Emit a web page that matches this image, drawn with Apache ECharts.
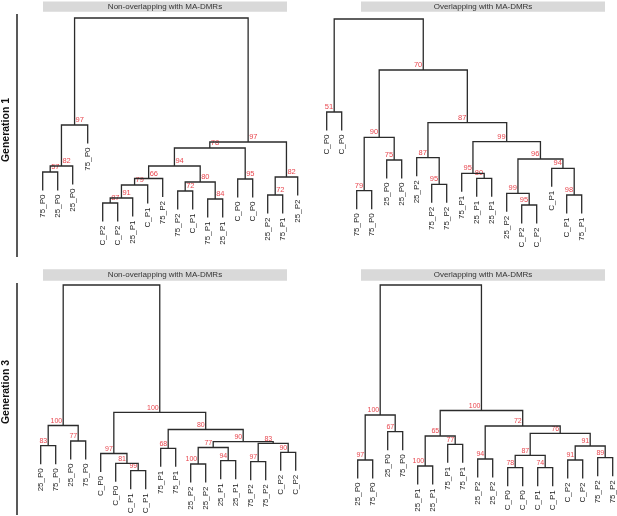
<!DOCTYPE html>
<html><head><meta charset="utf-8">
<script src="https://cdn.jsdelivr.net/npm/echarts@6/dist/echarts.min.js"></script>
<style>html,body{margin:0;padding:0;background:#fff}#c{width:617px;height:516px}</style>
</head><body><div id="c"></div>
<script>
// ---------- DATA ----------
// merges follow R hclust convention: -k = leaf k (1-based), +j = earlier merge j (1-based)
const panelTitles = ['Non-overlapping with MA-DMRs', 'Overlapping with MA-DMRs', 'Non-overlapping with MA-DMRs', 'Overlapping with MA-DMRs'];
const rowTitles = ['Generation 1', 'Generation 3'];

// Generation 1, non-overlapping
const leaves1 = ['75_P0','25_P0','25_P0','75_P0','C_P2','C_P2','25_P1','C_P1','75_P2','75_P2','C_P1','75_P1','25_P1','C_P0','C_P0','25_P2','75_P1','25_P2'];
const merge1 = [[-1,-2],[1,-3],[2,-4],[-5,-6],[4,-7],[5,-8],[6,-9],[-10,-11],[-12,-13],[8,9],[7,10],[-14,-15],[11,12],[-16,-17],[14,-18],[13,15],[3,16]];
const height1 = [68,74,115,37,42,55,61.5,49,41,58,74,61,92,45,63,98,222];
const support1 = [57,82,97,87,91,79,66,72,84,80,94,95,78,72,82,97,null];

// Generation 1, overlapping
const leaves2 = ['C_P0','C_P0','75_P0','75_P0','25_P0','25_P0','25_P2','75_P2','75_P2','75_P1','25_P1','25_P1','25_P2','C_P2','C_P2','C_P1','C_P1','75_P1'];
const merge2 = [[-1,-2],[-3,-4],[-5,-6],[2,3],[-8,-9],[-7,5],[-11,-12],[-10,7],[-14,-15],[-13,9],[-17,-18],[-16,11],[10,12],[8,13],[6,14],[4,15],[1,16]];
const height2 = [128,49.3,80,102.7,55.7,82.3,61.7,66.7,35,46.7,45,71.7,81,98.3,117.3,170,221];
const support2 = [51,79,75,90,95,87,80,95,95,99,98,94,96,99,87,70,null];

// Generation 3, non-overlapping
const leaves3 = ['25_P0','75_P0','25_P0','75_P0','C_P0','C_P0','C_P1','C_P1','75_P1','75_P1','25_P2','25_P2','25_P1','25_P1','75_P2','75_P2','C_P2','C_P2'];
const merge3 = [[-1,-2],[-3,-4],[1,2],[-7,-8],[-6,4],[-5,5],[-9,-10],[-11,-12],[-13,-14],[8,9],[-15,-16],[-17,-18],[11,12],[10,13],[7,14],[6,15],[3,16]];
const height3 = [60.3,65,80.5,35.3,42.7,52.5,57.7,42,45.3,58.5,44.3,53.7,62.7,64.3,76.5,93.7,221];
const support3 = [83,77,100,99,81,97,68,100,94,77,97,90,83,90,80,100,null];

// Generation 3, overlapping
const leaves4 = ['25_P0','75_P0','25_P0','75_P0','25_P1','25_P1','75_P1','75_P1','25_P2','25_P2','C_P0','C_P0','C_P1','C_P1','C_P2','C_P2','75_P2','75_P2'];
const merge4 = [[-1,-2],[-3,-4],[1,2],[-5,-6],[-7,-8],[4,5],[-9,-10],[-11,-12],[-13,-14],[8,9],[-15,-16],[-17,-18],[11,12],[10,13],[7,14],[6,15],[3,16]];
const height4 = [46,74.3,91,40,61.7,70,47,38.3,38.3,50.7,46,48.3,60,72.7,80,95.5,221];
const support4 = [97,67,100,100,77,65,94,78,74,87,91,89,91,76,72,100,null];

// ---------- LAYOUT / STYLE ----------
const HANG = 18.5;          // leaf hang below parent (height units)
const LINE = '#2b2b2b';
const RED = '#e8474f';
const FONT = '"Liberation Sans", Arial, Helvetica, sans-serif';
const panels = [
  {leaves: leaves1, merge: merge1, height: height1, support: support1, left: 42.7, top: 0, align: 'left', fs: 7.5},
  {leaves: leaves2, merge: merge2, height: height2, support: support2, left: 326.7, top: 0, align: 'right', fs: 7.5},
  {leaves: leaves3, merge: merge3, height: height3, support: support3, left: 40.7, top: 266, align: 'right', fs: 7},
  {leaves: leaves4, merge: merge4, height: height4, support: support4, left: 357.7, top: 266, align: 'right', fs: 7}
];

function build(p) {
  const pos = [];
  const leafEnd = [];
  const nodes = p.merge.map((pair, i) => {
    const ch = pair.map(c => {
      if (c < 0) { leafEnd[-c - 1] = p.height[i] - HANG; return {x: -c - 1, end: p.height[i] - HANG}; }
      return {x: pos[c - 1], end: p.height[c - 1]};
    });
    pos[i] = (ch[0].x + ch[1].x) / 2;
    return [ch[0].x, ch[1].x, p.height[i], ch[0].end, ch[1].end, pos[i], p.support[i] == null ? 0 : p.support[i]];
  });
  const leafData = p.leaves.map((l, i) => [i, leafEnd[i]]);
  return {nodes, leafData};
}

const grid = [], xAxis = [], yAxis = [], series = [];
panels.forEach((p, k) => {
  const t = build(p);
  grid.push({left: p.left, top: p.top, width: 255, height: 240, containLabel: false});
  xAxis.push({type: 'value', gridIndex: k, min: 0, max: p.leaves.length - 1, show: false});
  yAxis.push({type: 'value', gridIndex: k, min: 0, max: 240, show: false});
  series.push({
    type: 'custom', xAxisIndex: k, yAxisIndex: k, data: t.nodes, silent: true,
    renderItem: (params, api) => {
      const a = api.coord([api.value(0), api.value(3)]);
      const b = api.coord([api.value(0), api.value(2)]);
      const c = api.coord([api.value(1), api.value(2)]);
      const d = api.coord([api.value(1), api.value(4)]);
      const children = [{type: 'polyline', shape: {points: [a, b, c, d]}, style: {stroke: LINE, lineWidth: 1.3, fill: 'none'}}];
      const s = api.value(6);
      if (s > 0) {
        const j = api.coord([api.value(5), api.value(2)]);
        children.push({type: 'text', x: j[0] + (p.align === 'left' ? 1 : -1), y: j[1] - 1,
          style: {text: String(s), fill: RED, font: p.fs + 'px ' + FONT, align: p.align, verticalAlign: 'bottom'}});
      }
      return {type: 'group', children};
    }
  });
  series.push({
    type: 'custom', xAxisIndex: k, yAxisIndex: k, data: t.leafData, silent: true,
    renderItem: (params, api) => {
      const e = api.coord([api.value(0), api.value(1)]);
      return {type: 'text', x: e[0], y: e[1] + 4, rotation: Math.PI / 2,
        style: {text: p.leaves[params.dataIndex], fill: '#222', font: '8px ' + FONT, align: 'right', verticalAlign: 'middle'}};
    }
  });
});

const strips = [
  {x: 43, y: 1.5, w: 244, h: 10.3, cx: 165, cy: 6.7},
  {x: 361, y: 1.5, w: 244, h: 10.3, cx: 483, cy: 6.7},
  {x: 43, y: 269.3, w: 244, h: 11.4, cx: 165, cy: 275},
  {x: 361, y: 269.3, w: 244, h: 11.4, cx: 483, cy: 275}
];
const graphic = [];
strips.forEach((s, i) => {
  graphic.push({type: 'rect', shape: {x: s.x, y: s.y, width: s.w, height: s.h}, style: {fill: '#d9d9d9'}, silent: true});
  graphic.push({type: 'text', x: s.cx, y: s.cy, style: {text: panelTitles[i], fill: '#333', font: '8px ' + FONT, align: 'center', verticalAlign: 'middle'}, silent: true});
});
graphic.push({type: 'line', shape: {x1: 17, y1: 14, x2: 17, y2: 257}, style: {stroke: '#222', lineWidth: 1.5}});
graphic.push({type: 'line', shape: {x1: 17, y1: 283, x2: 17, y2: 515}, style: {stroke: '#222', lineWidth: 1.5}});
graphic.push({type: 'text', x: 6, y: 130, rotation: Math.PI / 2, style: {text: rowTitles[0], fill: '#111', font: 'bold 10.5px ' + FONT, align: 'center', verticalAlign: 'middle'}});
graphic.push({type: 'text', x: 6, y: 392, rotation: Math.PI / 2, style: {text: rowTitles[1], fill: '#111', font: 'bold 10.5px ' + FONT, align: 'center', verticalAlign: 'middle'}});

const chart = echarts.init(document.getElementById('c'), null, {renderer: 'canvas'});
chart.setOption({animation: false, backgroundColor: '#fff', grid, xAxis, yAxis, series, graphic});
</script>
</body></html>
